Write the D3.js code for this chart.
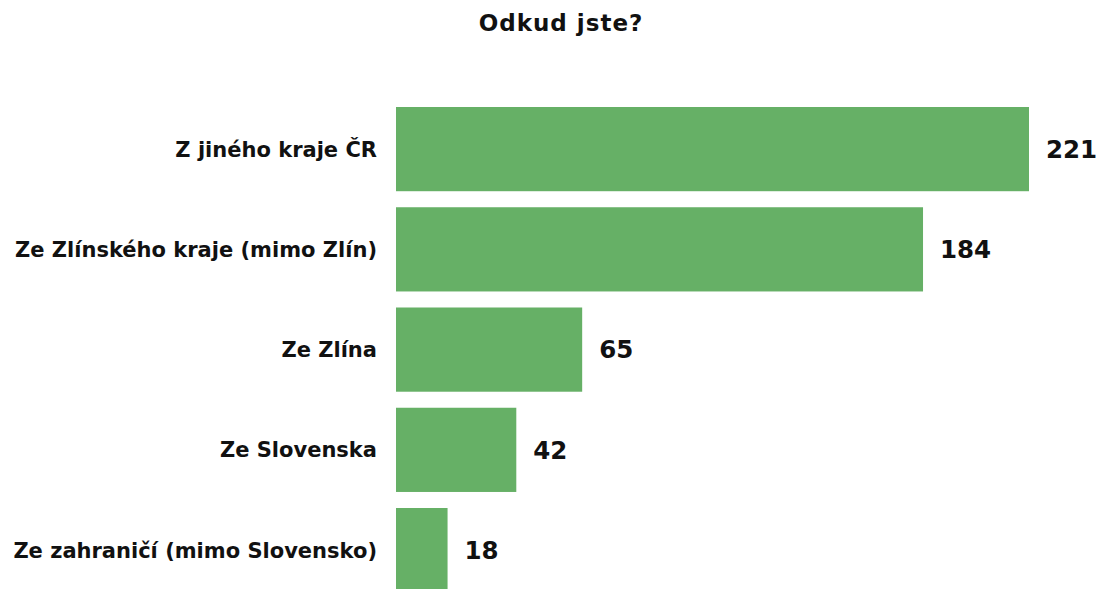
<!DOCTYPE html>
<html>
<head>
<meta charset="utf-8">
<script src="https://cdn.jsdelivr.net/npm/d3@7"></script>
<style>
  body { margin: 0; background: #fff; }
  text { font-family: "DejaVu Sans", sans-serif; font-weight: 700; fill: #111; }
</style>
</head>
<body>
<div id="vis"></div>
<script>
// data
var categories = [
  'Z jiného kraje ČR',
  'Ze Zlínského kraje (mimo Zlín)',
  'Ze Zlína',
  'Ze Slovenska',
  'Ze zahraničí (mimo Slovensko)'
];
var counts = [221, 184, 65, 42, 18];
var title = 'Odkud jste?';

var width = 1104, height = 589;
var margin = { top: 107, left: 396 };

var svg = d3.select('#vis').append('svg')
  .attr('width', width)
  .attr('height', height);

var x = d3.scaleLinear()
  .domain([0, d3.max(counts)])
  .range([margin.left, 1029]);

// step 100.25px, bar 84px
var y = d3.scaleBand()
  .domain(categories)
  .range([margin.top, margin.top + 100.25 * 4.84])
  .paddingInner(0.16)
  .paddingOuter(0);

var rows = categories.map(function (c, i) { return { cat: c, val: counts[i] }; });

svg.append('text')
  .attr('x', 561)
  .attr('y', 31)
  .attr('text-anchor', 'middle')
  .style('font-size', '23px')
  .style('letter-spacing', '1px')
  .text(title);

svg.selectAll('rect.bar')
  .data(rows)
  .enter().append('rect')
  .attr('class', 'bar')
  .attr('x', x(0))
  .attr('y', function (d) { return y(d.cat); })
  .attr('width', function (d) { return x(d.val) - x(0); })
  .attr('height', y.bandwidth())
  .attr('fill', '#66b066');

svg.selectAll('text.cat')
  .data(rows)
  .enter().append('text')
  .attr('class', 'cat')
  .attr('x', x(0) - 19)
  .attr('y', function (d) { return y(d.cat) + y.bandwidth() / 2; })
  .attr('dy', '0.36em')
  .attr('text-anchor', 'end')
  .style('font-size', '21px')
  .text(function (d) { return d.cat; });

svg.selectAll('text.val')
  .data(rows)
  .enter().append('text')
  .attr('class', 'val')
  .attr('x', function (d) { return x(d.val) + 17; })
  .attr('y', function (d) { return y(d.cat) + y.bandwidth() / 2; })
  .attr('dy', '0.36em')
  .style('font-size', '24.5px')
  .text(function (d) { return d.val; });
</script>
</body>
</html>
